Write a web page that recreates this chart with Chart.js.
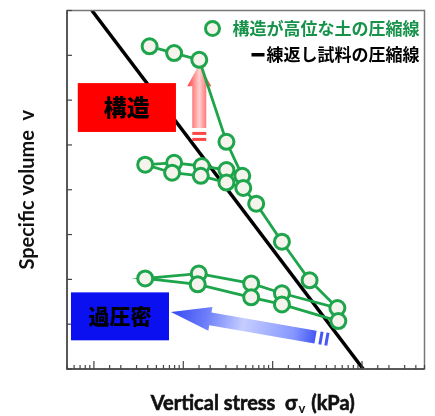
<!DOCTYPE html>
<html>
<head>
<meta charset="utf-8">
<script src="https://cdn.jsdelivr.net/npm/chart.js@4.4.0/dist/chart.umd.min.js"></script>
<style>
  body { margin: 0; background: #fff; }
  #wrap { width: 435px; height: 416px; }
</style>
</head>
<body>
<div id="wrap"><canvas id="grafico"></canvas></div>
<script>
// ensaio de adensamento: tensão vertical (kPa, log) x volume específico
const tensao = [42, 79, 151, 304, 457, 304, 161, 79, 37.5, 75, 157, 304, 469, 654,
                1270, 2590, 5300, 1270, 575, 149, 37.5, 145, 575, 1270, 5430];
const volume = [2.220, 2.205, 2.190, 2.007, 1.931, 1.944, 1.953, 1.960, 1.956, 1.938,
                1.931, 1.916, 1.904, 1.869, 1.784, 1.698, 1.636, 1.669, 1.691, 1.713,
                1.702, 1.689, 1.660, 1.644, 1.607];

// linha do solo remoldado
const linhaTensao = [9.5, 10300];
const linhaVolume = [2.3, 1.5];

const legendas = ["構造が高位な土の圧縮線", "練返し試料の圧縮線"];
const rotulos = ["構造", "過圧密"];

const verde = "#1ea54c";

// caixas e setas, em unidades dos eixos
const caixaVermelha = { x0: 6.6, x1: 82.8, y0: 2.138, y1: 2.029 };
const caixaAzul = { x0: 5.54, x1: 69.2, y0: 1.671, y1: 1.564 };
const setaVermelha = { de: [151, 2.038], para: [151, 2.180] };
const setaAzul = { de: [3020, 1.571], para: [72.8, 1.627] };

function desenharSeta(ctx, x0, y0, x1, y1, cab, meiaCab, meiaHaste, grad, corTraco) {
  const dx = x1 - x0, dy = y1 - y0;
  const L = Math.hypot(dx, dy);
  const ux = dx / L, uy = dy / L;
  const nx = -uy, ny = ux;
  const bx = x1 - ux * cab, by = y1 - uy * cab;
  ctx.fillStyle = grad;
  ctx.beginPath();
  ctx.moveTo(x0 + nx * meiaHaste, y0 + ny * meiaHaste);
  ctx.lineTo(bx + nx * meiaHaste, by + ny * meiaHaste);
  ctx.lineTo(bx + nx * meiaCab, by + ny * meiaCab);
  ctx.lineTo(x1, y1);
  ctx.lineTo(bx - nx * meiaCab, by - ny * meiaCab);
  ctx.lineTo(bx - nx * meiaHaste, by - ny * meiaHaste);
  ctx.lineTo(x0 - nx * meiaHaste, y0 - ny * meiaHaste);
  ctx.closePath();
  ctx.fill();
  // tracinhos atrás da seta
  ctx.fillStyle = corTraco;
  [[4, 3], [10, 3]].forEach(([d, w]) => {
    const sx = x0 - ux * d, sy = y0 - uy * d;
    ctx.beginPath();
    ctx.moveTo(sx + nx * meiaHaste, sy + ny * meiaHaste);
    ctx.lineTo(sx - ux * w + nx * meiaHaste, sy - uy * w + ny * meiaHaste);
    ctx.lineTo(sx - ux * w - nx * meiaHaste, sy - uy * w - ny * meiaHaste);
    ctx.lineTo(sx - nx * meiaHaste, sy - ny * meiaHaste);
    ctx.closePath();
    ctx.fill();
  });
}

const extras = {
  id: "extras",
  beforeDatasetsDraw(chart) {
    const { ctx, scales: { x, y } } = chart;
    ctx.save();
    // setas
    const r0x = x.getPixelForValue(setaVermelha.de[0]), r0y = y.getPixelForValue(setaVermelha.de[1]);
    const r1y = y.getPixelForValue(setaVermelha.para[1]);
    const gr = ctx.createLinearGradient(r0x - 12, 0, r0x + 12, 0);
    gr.addColorStop(0, "rgba(255,50,50,0.95)");
    gr.addColorStop(0.5, "rgba(255,205,205,0.95)");
    gr.addColorStop(1, "rgba(255,50,50,0.95)");
    desenharSeta(ctx, r0x, r0y, r0x, r1y, 22, 12, 7, gr, "rgba(255,50,50,0.9)");

    const b0x = x.getPixelForValue(setaAzul.de[0]), b0y = y.getPixelForValue(setaAzul.de[1]);
    const b1x = x.getPixelForValue(setaAzul.para[0]), b1y = y.getPixelForValue(setaAzul.para[1]);
    const gb = ctx.createLinearGradient(b1x, b1y, b0x, b0y);
    gb.addColorStop(0, "#3347f2");
    gb.addColorStop(0.25, "#6f80fa");
    gb.addColorStop(0.5, "#c6ceff");
    gb.addColorStop(0.85, "#8596ff");
    gb.addColorStop(1, "#4658f4");
    desenharSeta(ctx, b0x, b0y, b1x, b1y, 40, 12, 6.5, gb, "#4658f4");
    ctx.restore();
  },
  afterDraw(chart) {
    const { ctx, chartArea: a, scales: { x, y } } = chart;
    ctx.save();
    // moldura
    ctx.strokeStyle = "#777";
    ctx.lineWidth = 1.5;
    ctx.strokeRect(a.left, a.top, a.right - a.left, a.bottom - a.top);
    ctx.strokeStyle = "#444";
    ctx.beginPath();
    ctx.moveTo(a.left, a.top); ctx.lineTo(a.left, a.bottom); ctx.lineTo(a.right, a.bottom);
    ctx.stroke();

    // ticks para dentro
    ctx.lineWidth = 1.2;
    x.ticks.forEach(t => {
      const lg = Math.log10(t.value);
      const maior = Math.abs(lg - Math.round(lg)) < 1e-6;
      const px = x.getPixelForValue(t.value);
      ctx.beginPath();
      ctx.moveTo(px, a.bottom);
      ctx.lineTo(px, a.bottom - (maior ? 8 : 4));
      ctx.stroke();
    });
    y.ticks.forEach(t => {
      const py = y.getPixelForValue(t.value);
      ctx.beginPath();
      ctx.moveTo(a.left, py);
      ctx.lineTo(a.left + 5, py);
      ctx.stroke();
    });

    // caixas
    [[caixaVermelha, "#ff0000", rotulos[0], 23], [caixaAzul, "#0a10f0", rotulos[1], 21]].forEach(([c, cor, txt, tam]) => {
      const x0 = x.getPixelForValue(c.x0), x1 = x.getPixelForValue(c.x1);
      const y0 = y.getPixelForValue(c.y0), y1 = y.getPixelForValue(c.y1);
      ctx.fillStyle = cor;
      ctx.fillRect(x0, y0, x1 - x0, y1 - y0);
      ctx.fillStyle = "#000";
      ctx.font = `900 ${tam}px "Noto Sans CJK JP"`;
      ctx.textAlign = "center";
      ctx.textBaseline = "middle";
      ctx.fillText(txt, (x0 + x1) / 2, (y0 + y1) / 2);
    });

    // legenda
    ctx.font = 'bold 17px "Noto Sans CJK JP"';
    ctx.textAlign = "right";
    ctx.textBaseline = "middle";
    const dir = a.right - 5;
    ctx.fillStyle = "#17924a";
    ctx.fillText(legendas[0], dir, a.top + 18);
    const w0 = ctx.measureText(legendas[0]).width;
    ctx.beginPath();
    ctx.arc(dir - w0 - 20, a.top + 18, 7, 0, Math.PI * 2);
    ctx.fillStyle = "#f4f4ec";
    ctx.fill();
    ctx.strokeStyle = verde;
    ctx.lineWidth = 3;
    ctx.stroke();
    ctx.fillStyle = "#000";
    ctx.fillText(legendas[1], dir, a.top + 44);
    const w1 = ctx.measureText(legendas[1]).width;
    ctx.fillRect(dir - w1 - 15, a.top + 42.5, 13, 3.5);

    // título do eixo x com subscrito
    const cx = (a.left + a.right) / 2 + 6, cy = 404;
    const p1 = "Vertical stress  σ", p2 = "v", p3 = " (kPa)";
    ctx.font = "bold 20px Lato";
    const l1 = ctx.measureText(p1).width, l3 = ctx.measureText(p3).width;
    ctx.font = "bold 13px Lato";
    const l2 = ctx.measureText(p2).width;
    let sx = cx - (l1 + l2 + l3) / 2;
    ctx.textAlign = "left";
    ctx.fillStyle = "#111";
    ctx.strokeStyle = "#111";
    ctx.lineWidth = 0.6;
    ctx.font = "bold 20px Lato";
    ctx.fillText(p1, sx, cy);
    ctx.strokeText(p1, sx, cy);
    ctx.font = "bold 13px Lato";
    ctx.fillText(p2, sx + l1 + 1, cy + 5);
    ctx.font = "bold 20px Lato";
    ctx.fillText(p3, sx + l1 + l2 + 2, cy);
    ctx.strokeText(p3, sx + l1 + l2 + 2, cy);
    ctx.restore();
  }
};

const ctx = document.getElementById("grafico").getContext("2d");
new Chart(ctx, {
  type: "line",
  data: {
    datasets: [
      {
        label: legendas[0],
        data: tensao.map((t, i) => ({ x: t, y: volume[i] })),
        borderColor: verde,
        borderWidth: 2.8,
        pointRadius: 7.5,
        pointBorderWidth: 3,
        pointBackgroundColor: "#f4f4ec",
        pointBorderColor: verde,
        order: 1
      },
      {
        label: legendas[1],
        data: linhaTensao.map((t, i) => ({ x: t, y: linhaVolume[i] })),
        borderColor: "#000",
        borderWidth: 3.5,
        pointRadius: 0,
        order: 2
      }
    ]
  },
  options: {
    responsive: true,
    maintainAspectRatio: false,
    animation: false,
    layout: { padding: { top: 9, right: 8 } },
    plugins: { legend: { display: false }, tooltip: { enabled: false } },
    scales: {
      x: {
        type: "logarithmic",
        min: 5,
        max: 50000,
        grid: { display: false },
        border: { display: false },
        ticks: { display: false },
        afterFit: s => { s.height = 47; }
      },
      y: {
        min: 1.5,
        max: 2.3,
        grid: { display: false },
        border: { display: false },
        ticks: { display: false, stepSize: 0.1 },
        title: {
          display: true,
          text: "Specific volume  v",
          color: "#111",
          font: { family: "Lato", size: 20, weight: "bold" },
          padding: { top: 16 }
        },
        afterFit: s => { s.width = 67; }
      }
    }
  },
  plugins: [extras]
});
</script>
</body>
</html>
